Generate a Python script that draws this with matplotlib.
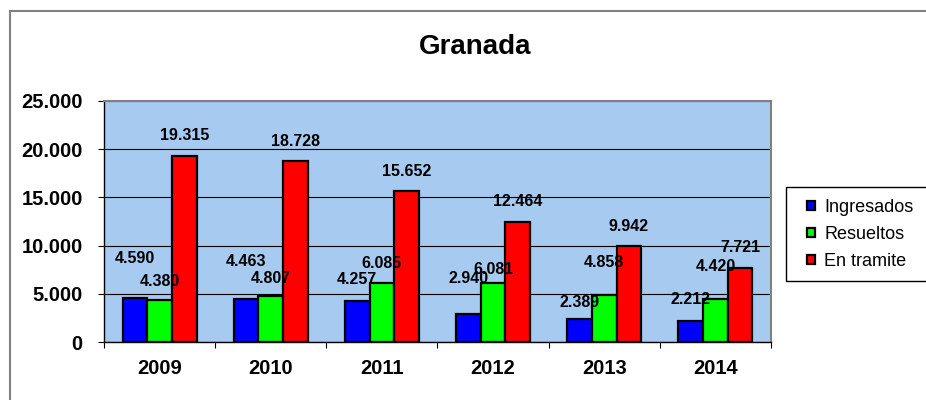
import matplotlib

matplotlib.use("Agg")
import matplotlib.pyplot as plt
import numpy as np
from matplotlib.patches import Patch, Rectangle
from matplotlib.ticker import FuncFormatter, MultipleLocator

plt.rcParams["font.family"] = ["Liberation Sans", "DejaVu Sans"]

years = ["2009", "2010", "2011", "2012", "2013", "2014"]
ingresados = [4590, 4463, 4257, 2940, 2389, 2212]
resueltos = [4380, 4807, 6085, 6081, 4858, 4420]
en_tramite = [19315, 18728, 15652, 12464, 9942, 7721]
series_names = ["Ingresados", "Resueltos", "En tramite"]

# layout only: how far (px) each value label sits above its bar top
label_lift = [
    [39, 37, 21, 35, 16, 21],
    [18, 17, 20, 14, 33, 33],
    [20, 20, 20, 20, 20, 20],
]
colors = ["#0000FF", "#00FF00", "#FF0000"]


def _thousands(v, pos=None):
    return f"{v:,.0f}".replace(",", ".")


W, H = 926, 400
fig = plt.figure(figsize=(W / 100, H / 100), dpi=100)
ax = fig.add_axes([104 / W, 58 / H, 667 / W, 241 / H])
ax.set_facecolor("#A6CAF0")

x = np.arange(len(years))
width = 0.2222
for i, (vals, color) in enumerate(zip([ingresados, resueltos, en_tramite], colors)):
    xs = x + (i - 1) * width
    ax.bar(xs, vals, width, color=color, edgecolor="black", linewidth=1.6, zorder=3)
    for xi, v, lift in zip(xs, vals, label_lift[i]):
        ax.annotate(_thousands(v), (xi, v), xytext=(0, lift), textcoords="offset pixels",
                    ha="center", va="center", fontsize=11.5, fontweight="bold", zorder=4)

ax.set_xlim(-0.5, len(years) - 0.5)
ax.set_ylim(0, 25000)
ax.yaxis.set_major_locator(MultipleLocator(5000))
ax.yaxis.set_major_formatter(FuncFormatter(_thousands))
ax.yaxis.grid(True, color="black", linewidth=0.8)
ax.set_axisbelow(True)

ax.set_xticks(x)
ax.set_xticklabels(years)
ax.set_xticks(np.arange(len(years) + 1) - 0.5, minor=True)
ax.tick_params(axis="x", which="major", length=0, pad=12, labelsize=14.5)
ax.tick_params(axis="x", which="minor", length=4.3, width=0.8, direction="out")
ax.tick_params(axis="y", length=4.3, width=0.8, direction="out", pad=11, labelsize=14.5)
for lbl in ax.get_xticklabels() + ax.get_yticklabels():
    lbl.set_fontweight("bold")

for side in ["left", "bottom"]:
    ax.spines[side].set_color("black")
    ax.spines[side].set_linewidth(1.0)
for side in ["top", "right"]:
    ax.spines[side].set_color("#808080")
    ax.spines[side].set_linewidth(1.5)

fig.text(475 / W, 1 - 47 / H, "Granada", ha="center", va="center", fontsize=20, fontweight="bold")

# outer chart frame (runs off the right and bottom edges)
fig.add_artist(Rectangle((10 / W, -0.05), 1.0, (H - 10.5) / H + 0.05, transform=fig.transFigure,
                         fill=False, edgecolor="#808080", linewidth=1.5))

# legend box
fig.add_artist(Rectangle((786 / W, 1 - 281 / H), 0.2, 94 / H, transform=fig.transFigure,
                         fill=False, edgecolor="black", linewidth=1.0))
handles = [Patch(facecolor=c, edgecolor="black", linewidth=1.6) for c in colors]
fig.legend(handles, series_names, loc="center left", bbox_to_anchor=(807 / W, 1 - 234.5 / H),
           frameon=False, fontsize=13, handlelength=0.45, handleheight=0.45, handletextpad=0.5,
           labelspacing=0.55, borderpad=0, borderaxespad=0)

fig.savefig("out.png", dpi=100)
plt.close(fig)
